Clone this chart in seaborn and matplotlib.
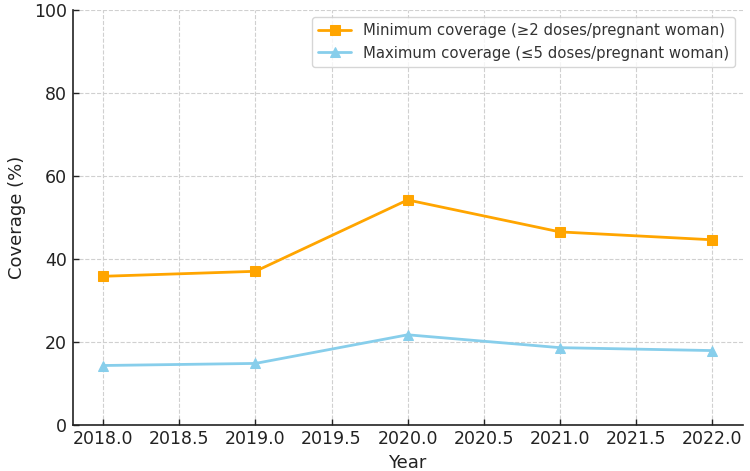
import numpy as np
import pandas as pd
import seaborn as sns
import matplotlib
matplotlib.use('Agg')
import matplotlib.pyplot as plt

years = [2018, 2019, 2020, 2021, 2022]
min_coverage = [35.8, 37.0, 54.2, 46.5, 44.6]
max_coverage = [14.3, 14.8, 21.7, 18.6, 17.9]
labels = ['Minimum coverage (≥2 doses/pregnant woman)',
          'Maximum coverage (≤5 doses/pregnant woman)']

sns.set_style('white')
plt.rcParams['font.family'] = ['DejaVu Sans']

df = pd.DataFrame({'Year': years, labels[0]: min_coverage, labels[1]: max_coverage})

fig, ax = plt.subplots(figsize=(7.5, 4.71), dpi=100)
sns.lineplot(data=df, x='Year', y=labels[0], marker='s', color='orange',
             markersize=7, markeredgecolor='orange', linewidth=2, label=labels[0], ax=ax)
sns.lineplot(data=df, x='Year', y=labels[1], marker='^', color='skyblue',
             markersize=7, markeredgecolor='skyblue', linewidth=2, label=labels[1], ax=ax)

ax.set_ylim(0, 100)
ax.set_xlabel('Year', fontsize=13, color='#222222', labelpad=4)
ax.set_ylabel('Coverage (%)', fontsize=13, color='#222222', labelpad=6)
ax.tick_params(axis='both', labelsize=12.5, length=4, width=1, direction='in',
               pad=4, left=True, bottom=True, colors='#222222')
ax.xaxis.set_major_formatter(matplotlib.ticker.FormatStrFormatter('%.1f'))
ax.grid(True, linestyle='--', color='#d0d0d0', linewidth=0.8)
sns.despine(ax=ax)
for s in ['left', 'bottom']:
    ax.spines[s].set_color('#222222')
    ax.spines[s].set_linewidth(1.2)
leg = ax.legend(loc='upper right', fontsize=10.7, frameon=True, handlelength=2.2)
for t in leg.get_texts():
    t.set_color('#333333')

fig.subplots_adjust(left=0.097, right=0.99, top=0.979, bottom=0.098)
fig.savefig('out.png', dpi=100)
